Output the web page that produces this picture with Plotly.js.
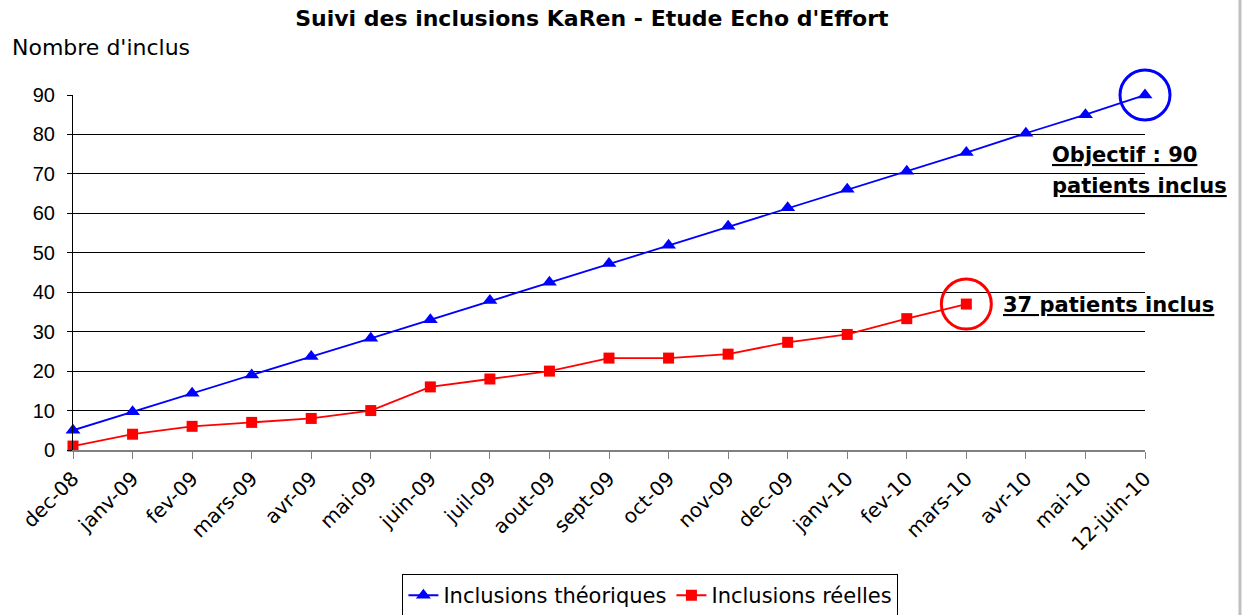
<!DOCTYPE html>
<html>
<head>
<meta charset="utf-8">
<script src="https://cdn.plot.ly/plotly-3.0.1.min.js"></script>
<style>html,body{margin:0;padding:0;background:#fff;}#chart{width:1246px;height:615px;}</style>
</head>
<body>
<div id="chart"></div>
<script>
const months = ["dec-08","janv-09","fev-09","mars-09","avr-09","mai-09","juin-09","juil-09","aout-09","sept-09","oct-09","nov-09","dec-09","janv-10","fev-10","mars-10","avr-10","mai-10","12-juin-10"];
const theoriques = [5, 9.7, 14.4, 19, 23.7, 28.3, 33, 37.9, 42.5, 47.3, 51.9, 56.7, 61.4, 66.1, 70.7, 75.4, 80.3, 85, 90];
const reelles = [1, 4, 6, 7, 8, 10, 16, 18, 20, 23.3, 23.3, 24.3, 27.3, 29.3, 33.3, 37, null, null, null];
const yTicks = [0,10,20,30,40,50,60,70,80,90];

const font = "Liberation Sans, Arial, sans-serif";
const wide = "DejaVu Sans, sans-serif";
const traces = [
  {x: months, y: theoriques, name: "Inclusions théoriques", type: "scatter", mode: "lines+markers", cliponaxis: false,
   line: {color: "#0000FF", width: 1.8}, marker: {symbol: "triangle-up", size: 13, color: "#0000FF"}},
  {x: months, y: reelles, name: "Inclusions réelles", type: "scatter", mode: "lines+markers", cliponaxis: false,
   line: {color: "#FF0000", width: 1.8}, marker: {symbol: "square", size: 11, color: "#FF0000"}}
];
const yMax = 90;
const lastT = months.length - 1;
const lastR = 15;
function circ(idx, val, color) {
  return {type: "circle", xref: "paper", yref: "paper", xsizemode: "pixel", ysizemode: "pixel",
          xanchor: idx / (months.length - 1), yanchor: val / yMax, x0: -25, x1: 25, y0: -25, y1: 25,
          line: {color: color, width: 3}};
}
const layout = {
  width: 1246, height: 615,
  margin: {l: 73, r: 101, t: 95, b: 165},
  paper_bgcolor: "#fff", plot_bgcolor: "#fff",
  font: {family: font, color: "#000"},
  title: {text: "<b>Suivi des inclusions KaRen - Etude Echo d'Effort</b>", font: {size: 22, family: wide, color: "#000"},
          x: 0.475, xref: "container", xanchor: "center", y: 0.97, yref: "container", yanchor: "middle"},
  showlegend: true,
  legend: {orientation: "h", x: 0.522, xanchor: "center", xref: "container", y: 0.0665, yref: "container", yanchor: "top",
           bordercolor: "#000", borderwidth: 1, font: {size: 21, family: wide}, bgcolor: "#fff"},
  xaxis: {type: "category", range: [0, months.length - 1], tickangle: -45, tickfont: {size: 20, family: wide},
          showline: true, linecolor: "#808080", linewidth: 2, ticks: "outside", ticklen: 7, tickcolor: "#808080",
          showgrid: false, zeroline: false, fixedrange: true, automargin: false},
  yaxis: {range: [0, yMax], tickvals: yTicks, tickfont: {size: 20, family: font}, ticklabelstandoff: 8,
          showline: true, linecolor: "#000", linewidth: 1, ticks: "outside", ticklen: 5, tickcolor: "#000",
          showgrid: true, gridcolor: "#000", gridwidth: 1, zeroline: false, fixedrange: true, automargin: false},
  shapes: [
    circ(lastT, theoriques[lastT], "#0000FF"),
    circ(lastR, reelles[lastR], "#FF0000"),
    {type: "line", xref: "paper", yref: "paper", x0: 1.0886, x1: 1.0886, y0: -0.5, y1: 1.3,
     line: {color: "#c0c0c0", width: 3}}
  ],
  annotations: [
    {text: "Nombre d'inclus", xref: "paper", yref: "paper", x: -0.0585, xanchor: "left", y: 1.133, yanchor: "middle",
     showarrow: false, font: {size: 22, family: wide}},
    {text: "<b><u>Objectif : 90</u></b>", xref: "paper", yref: "paper",
     x: 0.9115, xanchor: "left", y: 0.831, yanchor: "middle", align: "left", showarrow: false,
     font: {size: 21, family: wide}},
    {text: "<b><u>patients inclus</u></b>", xref: "paper", yref: "paper",
     x: 0.9115, xanchor: "left", y: 0.744, yanchor: "middle", align: "left", showarrow: false,
     font: {size: 21, family: wide}},
    {text: "<b><u>37 patients inclus</u></b>", xref: "paper", yref: "paper",
     x: 0.866, xanchor: "left", y: 0.408, yanchor: "middle", align: "left", showarrow: false,
     font: {size: 21, family: wide}}
  ]
};
Plotly.newPlot("chart", traces, layout, {staticPlot: true});
</script>
</body>
</html>
